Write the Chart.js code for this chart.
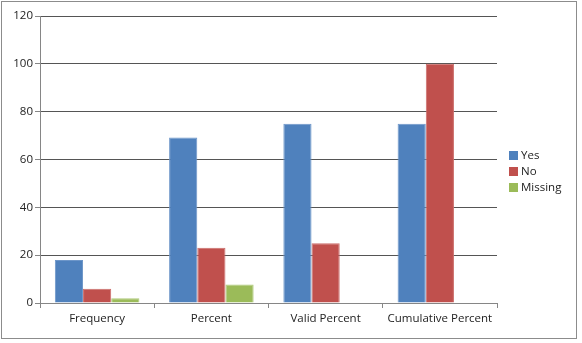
<!DOCTYPE html>
<html>
<head>
<meta charset="utf-8">
<script src="https://cdn.jsdelivr.net/npm/chart.js@4.4.1/dist/chart.umd.min.js"></script>
<style>
  body { margin: 0; background: #fff; }
  #wrap { position: relative; width: 582px; height: 343px; }
  #frame { position: absolute; left: 1px; top: 1px; width: 574px; height: 336px; border: 1px solid #8c8c8c; }
  #legend { position: absolute; left: 509px; top: 147px; font: 11.5px "Open Sans", sans-serif; color: #222; }
  #legend div { height: 16px; line-height: 16px; white-space: nowrap; }
  #legend span { display: inline-block; width: 9px; height: 9px; margin-right: 3px; vertical-align: -1px; }
</style>
</head>
<body>
<div id="wrap">
  <canvas id="grafico" width="582" height="343"></canvas>
  <div id="frame"></div>
  <div id="legend"></div>
</div>
<script>
const categorias = ['Frequency', 'Percent', 'Valid Percent', 'Cumulative Percent'];
const nomesSeries = ['Yes', 'No', 'Missing'];
const valoresYes = [18, 69.2, 75, 75];
const valoresNo = [6, 23.1, 25, 100];
const valoresMissing = [2, 7.7, null, null];
const cores = ['#4F81BD', '#C0504D', '#9BBB59'];
const bordas = ['#6d96c9', '#cc6d6a', '#aec97a'];

const series = [valoresYes, valoresNo, valoresMissing];
const fonte = { family: '"Open Sans", sans-serif', size: 11.5 };

const ctx = document.getElementById('grafico').getContext('2d');
new Chart(ctx, {
  type: 'bar',
  data: {
    labels: categorias,
    datasets: series.map(function(vals, i) {
      return {
        label: nomesSeries[i],
        data: vals,
        backgroundColor: cores[i],
        borderColor: bordas[i],
        borderWidth: 1,
        categoryPercentage: 0.74,
        barPercentage: 1
      };
    })
  },
  options: {
    responsive: false,
    animation: false,
    layout: { padding: { left: 0, right: 85, top: 16, bottom: 0 } },
    plugins: { legend: { display: false }, tooltip: { enabled: false } },
    scales: {
      x: {
        grid: { drawOnChartArea: false, drawTicks: true, tickLength: 5, color: '#868686' },
        border: { color: '#868686' },
        ticks: { font: fonte, color: '#222', padding: 4 },
        afterFit: function(s) { s.height = 40; }
      },
      y: {
        min: 0,
        max: 120,
        ticks: { stepSize: 20, font: fonte, color: '#222', padding: 2 },
        grid: { color: '#555', tickLength: 5, tickColor: '#868686' },
        border: { color: '#868686' },
        afterFit: function(s) { s.width = 40; }
      }
    }
  }
});

const legenda = document.getElementById('legend');
nomesSeries.forEach(function(n, i) {
  const d = document.createElement('div');
  d.innerHTML = '<span style="background:' + cores[i] + '"></span>' + n;
  legenda.appendChild(d);
});
</script>
</body>
</html>
